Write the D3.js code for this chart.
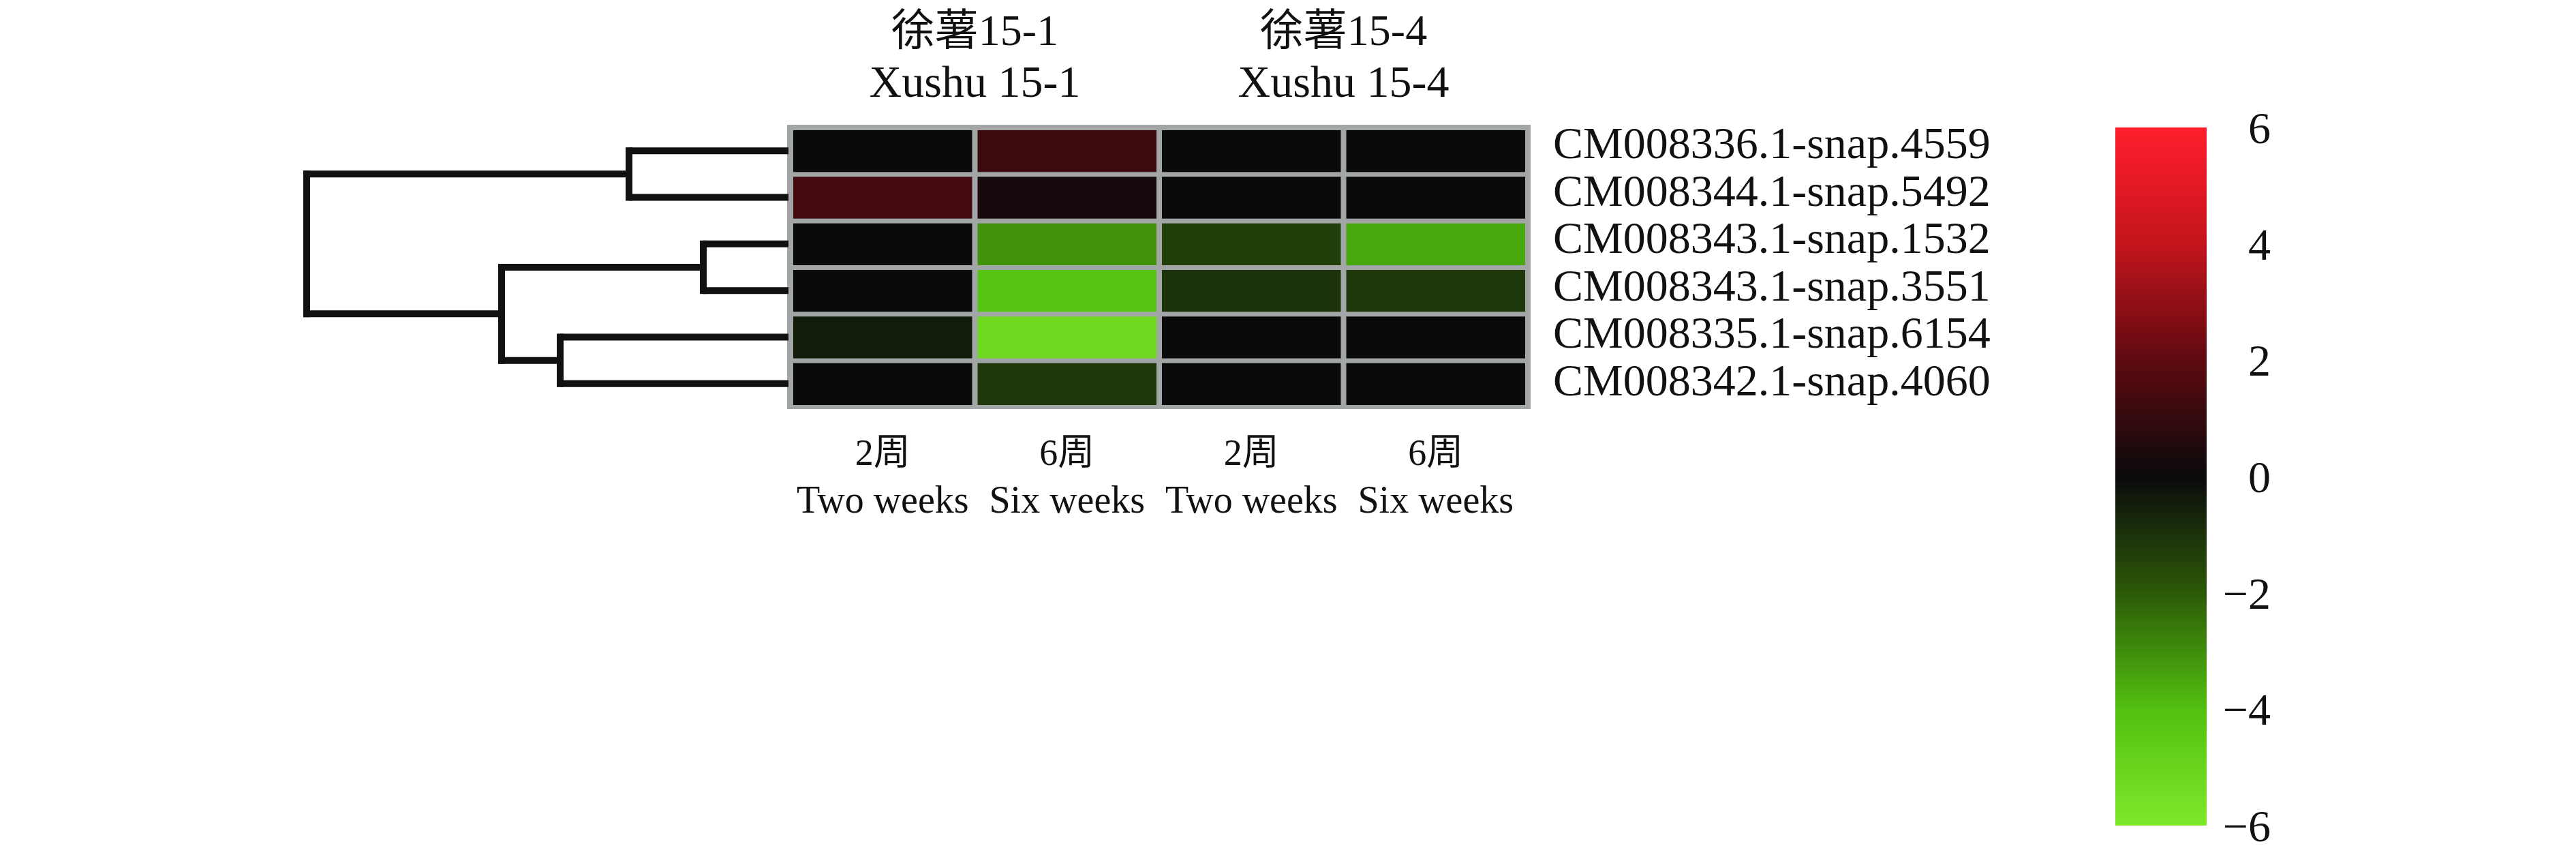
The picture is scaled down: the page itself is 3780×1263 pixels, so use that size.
<!DOCTYPE html>
<html><head><meta charset="utf-8">
<script src="https://cdn.jsdelivr.net/npm/d3@7"></script>
<style>html,body{margin:0;padding:0;background:#fff;}svg{display:block;}</style>
</head><body>
<script>
const rowLabels = ["CM008336.1-snap.4559","CM008344.1-snap.5492","CM008343.1-snap.1532","CM008343.1-snap.3551","CM008335.1-snap.6154","CM008342.1-snap.4060"];
const colTop = ["2周","6周","2周","6周"];
const colBottom = ["Two weeks","Six weeks","Two weeks","Six weeks"];
const groupCn = ["徐薯15-1","徐薯15-4"];
const groupEn = ["Xushu 15-1","Xushu 15-4"];
const values = [
  [0, 1.2, 0, 0],
  [1.4, 0.3, 0, 0],
  [0, -3.1, -1.35, -3.5],
  [0, -4.2, -1.0, -1.15],
  [-0.45, -5.3, 0, 0],
  [0, -1.15, 0, 0]
];
const legendTicks = [6, 4, 2, 0, -2, -4, -6];
const colorStops = [-6, -4, -2, 0, 2, 4, 6];
const colorValues = ["#7ee82a", "#52c010", "#2c5a08", "#0a0a0c", "#5e0a10", "#c4141c", "#ff1e2c"];
const dendroTree = {h: 7.07, children: [
  {h: 2.34, children: [0, 1]},
  {h: 4.21, children: [
    {h: 1.25, children: [2, 3]},
    {h: 3.35, children: [4, 5]}
  ]}
]};

const W = 3780, H = 1263;
const FONT = "'Liberation Serif','Times New Roman','Noto Sans CJK SC',serif";
const svg = d3.select("body").append("svg").attr("width", W).attr("height", H);
svg.append("rect").attr("width", W).attr("height", H).attr("fill", "#fff");

const color = d3.scaleLinear().domain(colorStops).range(colorValues).clamp(true);
const x = d3.scaleBand().domain(d3.range(4)).range([1160, 2242]);
const y = d3.scaleBand().domain(d3.range(6)).range([187, 597]);

// heatmap background frame
svg.append("rect").attr("x", 1155).attr("y", 183).attr("width", 1091).attr("height", 417).attr("fill", "#a2a6a6");
const cells = [];
values.forEach((row, r) => row.forEach((v, c) => cells.push({r, c, v})));
svg.append("g").selectAll("rect").data(cells).join("rect")
  .attr("x", d => x(d.c) + 4).attr("y", d => y(d.r) + 4)
  .attr("width", x.bandwidth() - 8).attr("height", y.bandwidth() - 7)
  .attr("fill", d => color(d.v));

// dendrogram
const xs = d3.scaleLinear().domain([0, dendroTree.h]).range([1157, 450]);
const dg = svg.append("g").attr("stroke", "#111").attr("stroke-width", 10).attr("fill", "none").attr("stroke-linecap", "square");
function layout(node) {
  if (typeof node === "number") return {x: xs(0), y: y(node) + y.bandwidth() / 2};
  const ch = node.children.map(layout);
  const nx = xs(node.h);
  const ys = ch.map(c => c.y);
  dg.append("line").attr("x1", nx).attr("x2", nx).attr("y1", d3.min(ys)).attr("y2", d3.max(ys));
  ch.forEach(c => dg.append("line").attr("x1", nx).attr("x2", c.x).attr("y1", c.y).attr("y2", c.y));
  return {x: nx, y: d3.mean(ys)};
}
layout(dendroTree);
dg.selectAll("line").filter(function(){ return +this.getAttribute("x2") === xs(0); }).attr("stroke-linecap", "butt");

// row labels
const ly0 = d3.scalePoint().domain(d3.range(6)).range([232, 580]);
svg.append("g").selectAll("text").data(rowLabels).join("text")
  .attr("x", 2279).attr("y", (d, i) => ly0(i))
  .attr("font-family", FONT).attr("font-size", 66).attr("fill", "#111").text(d => d);

// group headers
const gx = i => (x(i * 2) + x(i * 2 + 1) + x.bandwidth()) / 2;
svg.append("g").selectAll("text").data(groupCn).join("text")
  .attr("x", (d, i) => gx(i)).attr("y", 66).attr("text-anchor", "middle")
  .attr("font-family", FONT).attr("font-size", 64).attr("fill", "#111").text(d => d);
svg.append("g").selectAll("text").data(groupEn).join("text")
  .attr("x", (d, i) => gx(i)).attr("y", 142).attr("text-anchor", "middle")
  .attr("font-family", FONT).attr("font-size", 66).attr("fill", "#111").text(d => d);

// column labels
svg.append("g").selectAll("text").data(colTop).join("text")
  .attr("x", (d, i) => x(i) + x.bandwidth() / 2).attr("y", 682).attr("text-anchor", "middle")
  .attr("font-family", FONT).attr("font-size", 54).attr("fill", "#111").text(d => d);
svg.append("g").selectAll("text").data(colBottom).join("text")
  .attr("x", (d, i) => x(i) + x.bandwidth() / 2).attr("y", 752).attr("text-anchor", "middle")
  .attr("font-family", FONT).attr("font-size", 56).attr("fill", "#111").text(d => d);

// color bar
const ly = d3.scaleLinear().domain([6, -6]).range([187, 1211]);
const defs = svg.append("defs");
const grad = defs.append("linearGradient").attr("id", "cb").attr("x1", 0).attr("x2", 0).attr("y1", 0).attr("y2", 1);
d3.range(6, -6.01, -0.5).forEach(v => grad.append("stop").attr("offset", (ly(v) - 187) / (1211 - 187)).attr("stop-color", color(v)));
svg.append("rect").attr("x", 3104).attr("y", ly(6)).attr("width", 134).attr("height", ly(-6) - ly(6)).attr("fill", "url(#cb)");
const fmt = d3.format("d");
svg.append("g").selectAll("text").data(legendTicks).join("text")
  .attr("x", 3332).attr("y", d => ly(d)).attr("dy", "0.35em").attr("text-anchor", "end")
  .attr("font-family", FONT).attr("font-size", 66).attr("fill", "#111").text(d => fmt(d));
</script>
</body></html>
